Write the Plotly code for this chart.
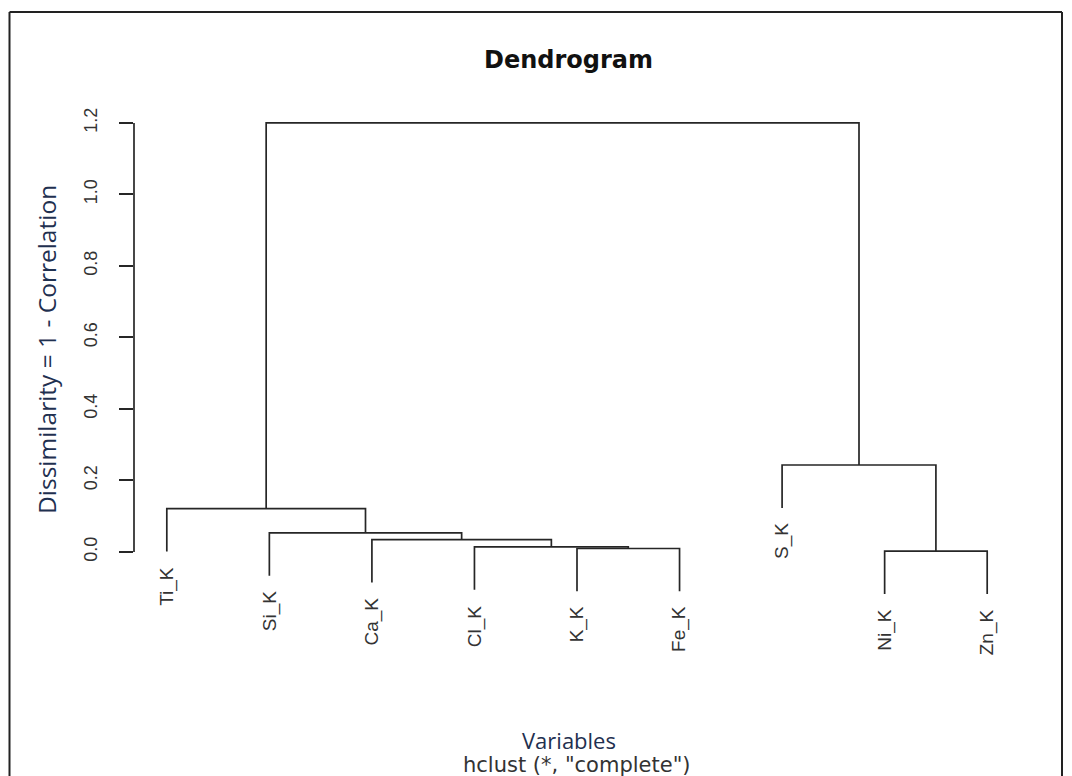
import plotly.graph_objects as go

# ---------------- data ----------------
labels = ["Ti_K", "Si_K", "Ca_K", "Cl_K", "K_K", "Fe_K", "S_K", "Ni_K", "Zn_K"]
# hclust-style merge table: negative = leaf (1-based position in labels), positive = earlier merge step
merge_left = [-5, -4, -3, -2, -1, -8, -7, 7]
merge_right = [-6, 1, 2, 3, 4, -9, 6, 5]
merge_height = [0.0095, 0.014, 0.034, 0.053, 0.121, 0.002, 0.243, 1.20]
hang = 0.12
y_ticks = [0.0, 0.2, 0.4, 0.6, 0.8, 1.0, 1.2]
y_tick_labels = ["0.0", "0.2", "0.4", "0.6", "0.8", "1.0", "1.2"]

# ---------------- layout geometry ----------------
W, H = 1072, 776
ML, MR, MT, MB = 134, 52, 104, 163
x_range = [0.68, 9.32]
y_range = [-0.171, 1.253]
PW, PH = W - ML - MR, H - MT - MB


def px_to_paper_x(px):
    return (px - ML) / PW


def px_to_paper_y(py):
    return (H - MB - py) / PH


# ---------------- build dendrogram segments ----------------
node_x, node_h = {}, {}
leaf_parent_h = {}
xs, ys = [], []


def child_pos(c, h):
    if c < 0:
        leaf_parent_h[-c] = h
        return float(-c), h - hang
    return node_x[c], node_h[c]


for i, (a, b, h) in enumerate(zip(merge_left, merge_right, merge_height), start=1):
    xa, ya = child_pos(a, h)
    xb, yb = child_pos(b, h)
    xs += [xa, xa, xb, xb, None]
    ys += [ya, h, h, yb, None]
    node_x[i] = (xa + xb) / 2
    node_h[i] = h

line_col = "#262626"
fig = go.Figure()
fig.add_trace(go.Scatter(x=xs, y=ys, mode="lines",
                         line=dict(color=line_col, width=1.7),
                         hoverinfo="skip", showlegend=False))

annotations = []
for k, lab in enumerate(labels, start=1):
    annotations.append(dict(
        x=k, y=leaf_parent_h[k] - hang, xref="x", yref="y",
        text=lab, showarrow=False, textangle=-90,
        xanchor="center", yanchor="top", yshift=-13,
        font=dict(family="Liberation Sans, Arial", size=19, color="#333333"),
    ))

# titles
annotations.append(dict(
    x=px_to_paper_x(568), y=px_to_paper_y(60), xref="paper", yref="paper",
    text="<b>Dendrogram</b>", showarrow=False, xanchor="center", yanchor="middle",
    font=dict(family="DejaVu Sans", size=24, color="#111111"),
))
annotations.append(dict(
    x=px_to_paper_x(569), y=px_to_paper_y(740), xref="paper", yref="paper",
    text="Variables", showarrow=False, xanchor="center", yanchor="middle",
    font=dict(family="Open Sans", size=22, color="#1f3050"),
))
annotations.append(dict(
    x=px_to_paper_x(577), y=px_to_paper_y(765), xref="paper", yref="paper",
    text="hclust (*, \"complete\")", showarrow=False, xanchor="center", yanchor="middle",
    font=dict(family="DejaVu Sans", size=21, color="#333333"),
))
annotations.append(dict(
    x=px_to_paper_x(46), y=px_to_paper_y(350), xref="paper", yref="paper",
    text="Dissimilarity = 1 - Correlation", showarrow=False, textangle=-90,
    xanchor="center", yanchor="middle",
    font=dict(family="Open Sans", size=24.5, color="#1f3050"),
))

shapes = [
    # y axis line spanning tick range
    dict(type="line", xref="paper", yref="y", x0=0, x1=0,
         y0=y_ticks[0], y1=y_ticks[-1], line=dict(color=line_col, width=1.7)),
    # outer frame
    dict(type="line", xref="paper", yref="paper",
         x0=px_to_paper_x(9.5), x1=px_to_paper_x(1062), y0=px_to_paper_y(12), y1=px_to_paper_y(12),
         line=dict(color="#222222", width=2)),
    dict(type="line", xref="paper", yref="paper",
         x0=px_to_paper_x(9.5), x1=px_to_paper_x(9.5), y0=px_to_paper_y(12), y1=px_to_paper_y(790),
         line=dict(color="#222222", width=2)),
    dict(type="line", xref="paper", yref="paper",
         x0=px_to_paper_x(1062), x1=px_to_paper_x(1062), y0=px_to_paper_y(12), y1=px_to_paper_y(790),
         line=dict(color="#222222", width=2)),
]

fig.update_layout(
    width=W, height=H,
    margin=dict(l=ML, r=MR, t=MT, b=MB, pad=0),
    paper_bgcolor="white", plot_bgcolor="white",
    xaxis=dict(range=x_range, visible=False, fixedrange=True),
    yaxis=dict(range=y_range, tickvals=y_ticks, ticktext=y_tick_labels,
               tickangle=-90, ticks="outside", ticklen=14, tickwidth=1.7,
               tickcolor=line_col, showline=False, showgrid=False, zeroline=False,
               ticklabelstandoff=15,
               tickfont=dict(family="Liberation Sans, Arial", size=18, color="#333333")),
    annotations=annotations,
    shapes=shapes,
    showlegend=False,
)

fig.write_html("out.html")
